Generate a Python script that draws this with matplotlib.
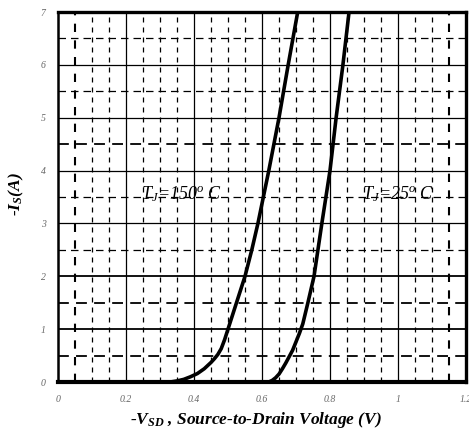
"""
Source-drain diode forward characteristic (-I_S vs -V_SD) at two junction temperatures.
Output: out.png
"""
import matplotlib
matplotlib.use("Agg")
import matplotlib.pyplot as plt
import numpy as np

# 150 C curve
v_150 = [0.33, 0.35, 0.37, 0.39, 0.41, 0.43, 0.45, 0.46, 0.47, 0.48, 0.49, 0.50, 0.51,
         0.525, 0.55, 0.57, 0.588, 0.62, 0.65, 0.677, 0.705]
i_150 = [0.0, 0.02, 0.05, 0.10, 0.16, 0.25, 0.37, 0.44, 0.52, 0.63, 0.80, 1.0, 1.2,
         1.5, 2.0, 2.5, 3.0, 4.0, 5.0, 6.0, 7.0]
# 25 C curve
v_25 = [0.55, 0.62, 0.63, 0.64, 0.65, 0.66, 0.67, 0.68, 0.69, 0.70, 0.71, 0.72,
        0.735, 0.753, 0.776, 0.80, 0.818, 0.838, 0.856]
i_25 = [0.0, 0.0, 0.03, 0.08, 0.15, 0.25, 0.36, 0.48, 0.60, 0.76, 0.92, 1.1,
        1.5, 2.0, 3.0, 4.0, 5.0, 6.0, 7.0]

x_ticks = [0, 0.2, 0.4, 0.6, 0.8, 1.0, 1.2]
x_tick_labels = ["0", "0.2", "0.4", "0.6", "0.8", "1", "1.2"]
y_ticks = [0, 1, 2, 3, 4, 5, 6, 7]

plt.rcParams["font.family"] = ["Liberation Serif", "DejaVu Serif"]
plt.rcParams["mathtext.fontset"] = "custom"
plt.rcParams["mathtext.it"] = "Liberation Serif:italic"
plt.rcParams["mathtext.rm"] = "Liberation Serif:italic"

fig = plt.figure(figsize=(4.69, 4.37), dpi=100)
ax = fig.add_axes([58 / 469, 1 - 382 / 437, 408 / 469, 370 / 437])
ax.set_xlim(0, 1.2)
ax.set_ylim(0, 7)

# grid: solid majors, dashed minors
for x in np.arange(0.2, 1.2, 0.2):
    ax.axvline(x, color="black", lw=0.9, zorder=1)
for y in range(1, 7):
    ax.axhline(y, color="black", lw=1.3 if y in (1, 2) else 0.9, zorder=1)
for k in range(1, 24):
    x = k * 0.05
    if k % 4 == 0:
        continue
    lw = 1.5 if k in (1, 23) else 0.9
    ax.axvline(x, color="black", lw=lw, ls=(0, (4, 4)), zorder=1)
for k in range(1, 14, 2):
    y = k * 0.5
    lw = 1.3 if y in (4.5, 1.5, 0.5) else 0.9
    ax.axhline(y, color="black", lw=lw, ls=(0, (6, 4)), zorder=1)

ax.plot(v_150, i_150, color="black", lw=2.6, solid_capstyle="butt",
        solid_joinstyle="round", zorder=3)
ax.plot(v_25, i_25, color="black", lw=2.6, solid_capstyle="butt",
        solid_joinstyle="round", zorder=3)

ax.text(0.245, 3.55, r"T$_{J}$=150$^{o}$ C", fontsize=13, style="italic",
        va="center", ha="left", zorder=4)
ax.text(0.895, 3.55, r"T$_{J}$=25$^{o}$ C", fontsize=13, style="italic",
        va="center", ha="left", zorder=4)

for side in ("top", "right"):
    ax.spines[side].set_linewidth(2.4)
ax.spines["bottom"].set_linewidth(3.0)
ax.spines["left"].set_linewidth(1.8)

ax.set_xticks(x_ticks)
ax.set_xticklabels(x_tick_labels)
ax.set_yticks(y_ticks)
ax.tick_params(length=0, labelsize=7, labelcolor="#666666", pad=9)
for lab in ax.get_xticklabels() + ax.get_yticklabels():
    lab.set_style("italic")

fig.text(0.545, 0.038, r"-V$_{\mathregular{SD}}$ , Source-to-Drain Voltage (V)",
         fontsize=12.5, fontweight="bold", style="italic", ha="center", va="center")
fig.text(0.035, 0.555, r"-I$_{\mathregular{S}}$(A)", fontsize=12.5, fontweight="bold",
         style="italic", ha="center", va="center", rotation=90)

fig.savefig("out.png", dpi=100, facecolor="white")
